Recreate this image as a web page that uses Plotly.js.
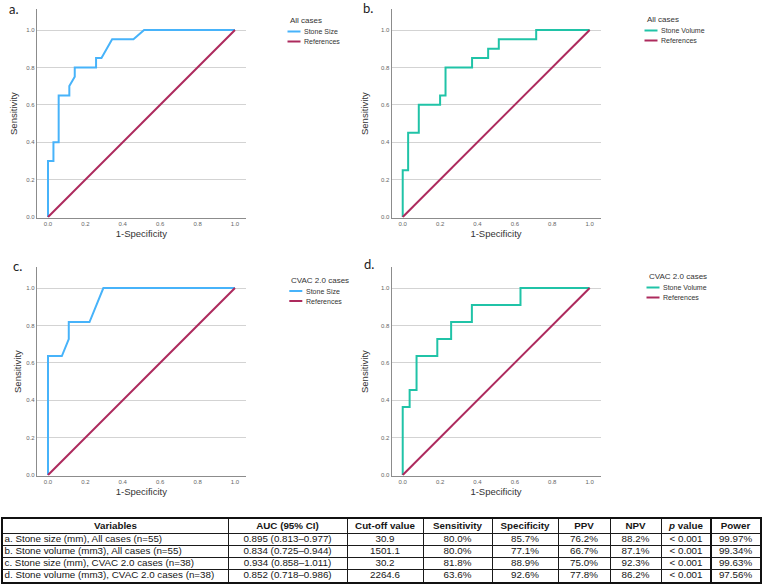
<!DOCTYPE html>
<html>
<head>
<meta charset="utf-8">
<script src="https://cdn.plot.ly/plotly-3.0.1.min.js"></script>
<style>
  html, body { margin: 0; padding: 0; background: #fff; }
  #chart { width: 762px; height: 588px; }
</style>
</head>
<body>
<div id="chart"></div>
<script>
// ROC curves (1-Specificity vs Sensitivity) for stone size / stone volume
const sizeAllFpr  = [0, 0, 0.029, 0.029, 0.057, 0.057, 0.114, 0.114, 0.143, 0.143, 0.257, 0.257, 0.286, 0.343, 0.457, 0.514, 1];
const sizeAllTpr  = [0, 0.30, 0.30, 0.40, 0.40, 0.65, 0.65, 0.70, 0.75, 0.80, 0.80, 0.85, 0.85, 0.95, 0.95, 1.00, 1.00];

const volAllFpr   = [0, 0, 0.029, 0.029, 0.086, 0.086, 0.200, 0.200, 0.229, 0.229, 0.371, 0.371, 0.457, 0.457, 0.514, 0.514, 0.714, 0.714, 1];
const volAllTpr   = [0, 0.25, 0.25, 0.45, 0.45, 0.60, 0.60, 0.65, 0.65, 0.80, 0.80, 0.85, 0.85, 0.90, 0.90, 0.95, 0.95, 1.00, 1.00];

const sizeCvacFpr = [0, 0, 0.074, 0.111, 0.111, 0.222, 0.296, 1];
const sizeCvacTpr = [0, 0.636, 0.636, 0.727, 0.818, 0.818, 1.00, 1.00];

const volCvacFpr  = [0, 0, 0.037, 0.037, 0.074, 0.074, 0.185, 0.185, 0.259, 0.259, 0.370, 0.370, 0.630, 0.630, 1];
const volCvacTpr  = [0, 0.364, 0.364, 0.455, 0.455, 0.636, 0.636, 0.727, 0.727, 0.818, 0.818, 0.909, 0.909, 1.00, 1.00];

const refFpr = [0, 1];
const refTpr = [0, 1];

const panelLetters = ['a.', 'b.', 'c.', 'd.'];
const groupTitles  = ['All cases', 'All cases', 'CVAC 2.0 cases', 'CVAC 2.0 cases'];
const curveNames   = ['Stone Size', 'Stone Volume', 'Stone Size', 'Stone Volume'];
const refName      = 'References';
const xTitle = '1-Specificity';
const yTitle = 'Sensitivity';

// Summary table
const tableHeaders = ['Variables', 'AUC (95% CI)', 'Cut-off value', 'Sensitivity', 'Specificity', 'PPV', 'NPV', '<i>p</i> value', 'Power'];
const variables   = ['a. Stone size (mm), All cases (n=55)', 'b. Stone volume (mm3), All cases (n=55)', 'c. Stone size (mm), CVAC 2.0 cases (n=38)', 'd. Stone volume (mm3), CVAC 2.0 cases (n=38)'];
const aucCi       = ['0.895 (0.813\u20130.977)', '0.834 (0.725\u20130.944)', '0.934 (0.858\u20131.011)', '0.852 (0.718\u20130.986)'];
const cutoffs     = ['30.9', '1501.1', '30.2', '2264.6'];
const sensitivity = ['80.0%', '80.0%', '81.8%', '63.6%'];
const specificity = ['85.7%', '77.1%', '88.9%', '92.6%'];
const ppv         = ['76.2%', '66.7%', '75.0%', '77.8%'];
const npv         = ['88.2%', '87.1%', '92.3%', '86.2%'];
const pValues     = ['< 0.001', '< 0.001', '< 0.001', '< 0.001'];
const power       = ['99.97%', '99.34%', '99.63%', '97.56%'];

// ---- styling / layout ----
const W = 762, H = 588;
const BLUE = '#47b3fa', TEAL = '#20c3a7', CRIMSON = '#ad2a5d';
const curveColors = [BLUE, TEAL, BLUE, TEAL];
const FONT = 'Liberation Sans, Arial, sans-serif';

const px2x = (a, b) => [a / W, b / W];
const px2y = (top, bottom) => [1 - bottom / H, 1 - top / H];

// plot-area boxes [left, right, top, bottom] in px
const boxes = [
  [36.8, 245.8, 9.45, 217.75],
  [391.5, 600.5, 9.45, 217.75],
  [36.8, 245.8, 267.45, 475.75],
  [391.5, 600.5, 267.45, 475.75]
];
const legendPos = [[287.5, 20.5], [644.5, 19.5], [289.3, 280], [646.5, 276.5]];
const letterPos = [[7, 9], [361, 8], [11, 266], [362, 264]];
const yTitleStandoff = [6, 10, 2, 10];

const curves = [
  [sizeAllFpr, sizeAllTpr], [volAllFpr, volAllTpr],
  [sizeCvacFpr, sizeCvacTpr], [volCvacFpr, volCvacTpr]
];

const traces = [];
const layout = {
  width: W, height: H,
  margin: {l: 0, r: 0, t: 0, b: 0},
  paper_bgcolor: '#fff', plot_bgcolor: '#fff',
  showlegend: false,
  hovermode: false,
  font: {family: FONT, color: '#333'},
  annotations: [],
  shapes: []
};

curves.forEach((c, i) => {
  const n = i + 1;
  const xa = 'x' + (n === 1 ? '' : n), ya = 'y' + (n === 1 ? '' : n);
  traces.push({
    type: 'scatter', mode: 'lines', x: c[0], y: c[1], name: curveNames[i],
    xaxis: xa, yaxis: ya, line: {color: curveColors[i], width: 2}
  });
  traces.push({
    type: 'scatter', mode: 'lines', x: refFpr, y: refTpr, name: refName,
    xaxis: xa, yaxis: ya, line: {color: CRIMSON, width: 2}
  });
  const b = boxes[i];
  layout['xaxis' + (n === 1 ? '' : n)] = {
    domain: px2x(b[0], b[1]), range: [-0.06, 1.058], anchor: ya,
    showgrid: false, zeroline: false, showline: true, linecolor: '#8c8c8c', linewidth: 1,
    ticks: '', dtick: 0.2, tick0: 0, tickformat: '.1f',
    tickfont: {size: 6, color: '#666', family: FONT},
    title: {text: xTitle, font: {size: 9.5, color: '#333', family: FONT}, standoff: 4}
  };
  layout['yaxis' + (n === 1 ? '' : n)] = {
    domain: px2y(b[2], b[3]), range: [-0.004, 1.11], anchor: xa,
    showgrid: true, gridcolor: '#d3d3d3', gridwidth: 1,
    zeroline: false, showline: true, linecolor: '#8c8c8c', linewidth: 1,
    ticks: '', dtick: 0.2, tick0: 0, tickformat: '.1f',
    tickfont: {size: 6, color: '#666', family: FONT},
    title: {text: yTitle, font: {size: 9.5, color: '#333', family: FONT}, standoff: yTitleStandoff[i]}
  };

  // panel letter
  layout.annotations.push({
    xref: 'paper', yref: 'paper', x: letterPos[i][0] / W, y: 1 - letterPos[i][1] / H,
    xanchor: 'left', yanchor: 'middle', showarrow: false, text: panelLetters[i],
    font: {size: 13, color: '#222', family: 'Lato, Open Sans, sans-serif'}
  });

  // legend block: group title, curve swatch + label, reference swatch + label
  const lx = legendPos[i][0], ly = legendPos[i][1];
  layout.annotations.push({
    xref: 'paper', yref: 'paper', x: lx / W, y: 1 - ly / H,
    xanchor: 'left', yanchor: 'middle', showarrow: false, text: groupTitles[i],
    font: {size: 8, color: '#333', family: FONT}
  });
  [[curveNames[i], curveColors[i]], [refName, CRIMSON]].forEach((e, k) => {
    const yy = ly + 11 + k * 10;
    layout.shapes.push({
      type: 'line', xref: 'paper', yref: 'paper',
      x0: lx / W, x1: (lx + 13) / W, y0: 1 - yy / H, y1: 1 - yy / H,
      line: {color: e[1], width: 2}
    });
    layout.annotations.push({
      xref: 'paper', yref: 'paper', x: (lx + 14.5) / W, y: 1 - yy / H,
      xanchor: 'left', yanchor: 'middle', showarrow: false, text: e[0],
      font: {size: 7, color: '#333', family: FONT}
    });
  });
});

// ---- table drawn on its own axis pair, cell grid from axis gridlines ----
const colEdges = [3, 228, 347, 423, 492, 558, 610, 661, 711, 760];
const rowEdges = [519, 533.3, 545.5, 557.7, 569.9, 582.1];
const columns = [variables, aucCi, cutoffs, sensitivity, specificity, ppv, npv, pValues, power];
const colMid = k => (colEdges[k] + colEdges[k + 1]) / 2;
const rowMid = r => (rowEdges[r] + rowEdges[r + 1]) / 2;
const TFONT = {family: FONT, size: 9.8, color: '#151515'};

traces.push({
  type: 'scatter', mode: 'text', xaxis: 'x5', yaxis: 'y5',
  x: tableHeaders.map((_, k) => colMid(k)), y: tableHeaders.map(() => rowMid(0)),
  text: tableHeaders.map(h => '<b>' + h + '</b>'), textposition: 'middle center',
  textfont: TFONT, cliponaxis: false
});
traces.push({
  type: 'scatter', mode: 'text', xaxis: 'x5', yaxis: 'y5',
  x: variables.map(() => colEdges[0] + 1.5), y: variables.map((_, r) => rowMid(r + 1)),
  text: variables, textposition: 'middle right', textfont: TFONT, cliponaxis: false
});
const bx = [], by = [], bt = [];
columns.slice(1).forEach((col, j) => {
  col.forEach((v, r) => { bx.push(colMid(j + 1)); by.push(rowMid(r + 1)); bt.push(v); });
});
traces.push({
  type: 'scatter', mode: 'text', xaxis: 'x5', yaxis: 'y5',
  x: bx, y: by, text: bt, textposition: 'middle center', textfont: TFONT, cliponaxis: false
});

layout.xaxis5 = {
  domain: px2x(colEdges[0], colEdges[colEdges.length - 1]),
  range: [colEdges[0], colEdges[colEdges.length - 1]], anchor: 'y5',
  tickvals: colEdges.slice(1, -1), showticklabels: false, ticks: '',
  showgrid: true, gridcolor: '#1a1a1a', gridwidth: 1, zeroline: false,
  showline: true, mirror: true, linecolor: '#111', linewidth: 1.6
};
layout.yaxis5 = {
  domain: px2y(rowEdges[0], rowEdges[rowEdges.length - 1]),
  range: [rowEdges[rowEdges.length - 1], rowEdges[0]], anchor: 'x5',
  tickvals: rowEdges.slice(1, -1), showticklabels: false, ticks: '',
  showgrid: true, gridcolor: '#1a1a1a', gridwidth: 1, zeroline: false,
  showline: true, mirror: true, linecolor: '#111', linewidth: 1.6
};
// heavier rule before the Power column
layout.shapes.push({
  type: 'line', xref: 'x5', yref: 'y5',
  x0: colEdges[8], x1: colEdges[8], y0: rowEdges[0], y1: rowEdges[rowEdges.length - 1],
  line: {color: '#111', width: 2}
});

Plotly.newPlot('chart', traces, layout, {staticPlot: true, displayModeBar: false});
</script>
</body>
</html>
